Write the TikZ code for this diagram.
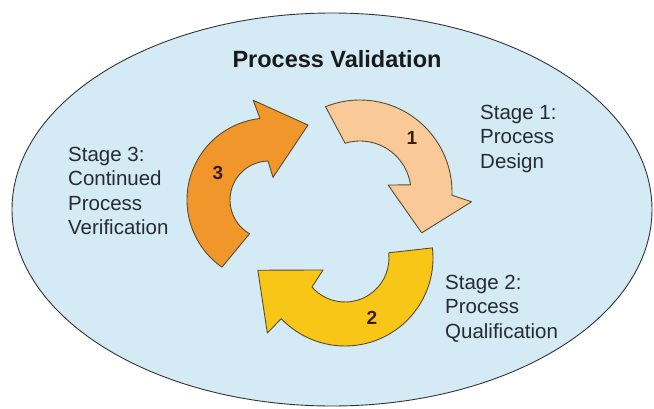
\documentclass[tikz,border=0pt]{standalone}
\usepackage{fontspec}
\setmainfont{Liberation Sans}
\usepackage{xcolor}
\usepackage{tikz}

\definecolor{pvsky}{RGB}{212,234,245}
\definecolor{pvrim}{RGB}{50,52,55}
\definecolor{pvpeach}{RGB}{249,201,152}
\definecolor{pvyellow}{RGB}{247,198,22}
\definecolor{pvorange}{RGB}{240,150,42}
\definecolor{pvedge}{RGB}{92,76,46}
\definecolor{pvtext}{RGB}{38,43,48}
\definecolor{pvnum}{RGB}{58,28,16}

\tikzset{
  stagearrow/.style={draw=pvedge, line width=0.9pt, line join=round},
  stagetext/.style={anchor=base west, align=left, inner sep=0pt, text=pvtext,
    font=\fontsize{20.5}{24.3}\selectfont},
  stagenum/.style={inner sep=0pt, text=pvnum, font=\fontsize{19}{19}\selectfont\bfseries}
}

\begin{document}
\begin{tikzpicture}[x=1pt, y=1pt]
  \useasboundingbox (0,0) rectangle (654,408);
  \fill[white] (0,0) rectangle (654,408);
  \coordinate (E) at (332,198.5);
  \coordinate (C1) at (360,216);
  \coordinate (C2) at (345,150);
  \coordinate (C3) at (269,208);
  \filldraw[fill=pvsky, draw=pvrim, line width=0.9pt] (E) ellipse [x radius=320, y radius=196.5];
  \node[anchor=base, inner sep=0pt, font=\fontsize{23.5}{28}\selectfont\bfseries, text=black!90]
    (title) at (337,340) {Process Validation};
  \filldraw[stagearrow, fill=pvpeach, shift={(C1)}]
    (112:92) arc[start angle=112, end angle=-2, radius=92] -- (-5:112) -- (-33.5:74)
    -- (14:29) -- (8:51) arc[start angle=8, end angle=107, radius=51] -- cycle;
  \filldraw[stagearrow, fill=pvyellow, shift={(C2)}]
    (6.6:88) arc[start angle=6.6, end angle=-136.4, radius=88] -- (-136:108) -- (188:88)
    -- (208.6:25) -- (221.3:44) arc[start angle=-138.7, end angle=6.8, radius=44] -- cycle;
  \filldraw[stagearrow, fill=pvorange, shift={(C3)}]
    (235:82) arc[start angle=235, end angle=96.3, radius=82] -- (99:101) -- (62.5:84.5)
    -- (80:23) -- (91.4:39) arc[start angle=91.4, end angle=240, radius=39] -- cycle;
  \node[stagenum] (n1) at (412,270) {1};
  \node[stagenum] (n2) at (372,90) {2};
  \node[stagenum] (n3) at (218,235) {3};
  \node[stagetext] (stage1) at (480,240) {Stage 1:\\Process\\Design};
  \node[stagetext] (stage2) at (445,70) {Stage 2:\\Process\\Qualification};
  \node[stagetext] (stage3) at (68,173.5) {Stage 3:\\Continued\\Process\\Verification};
\end{tikzpicture}
\end{document}
